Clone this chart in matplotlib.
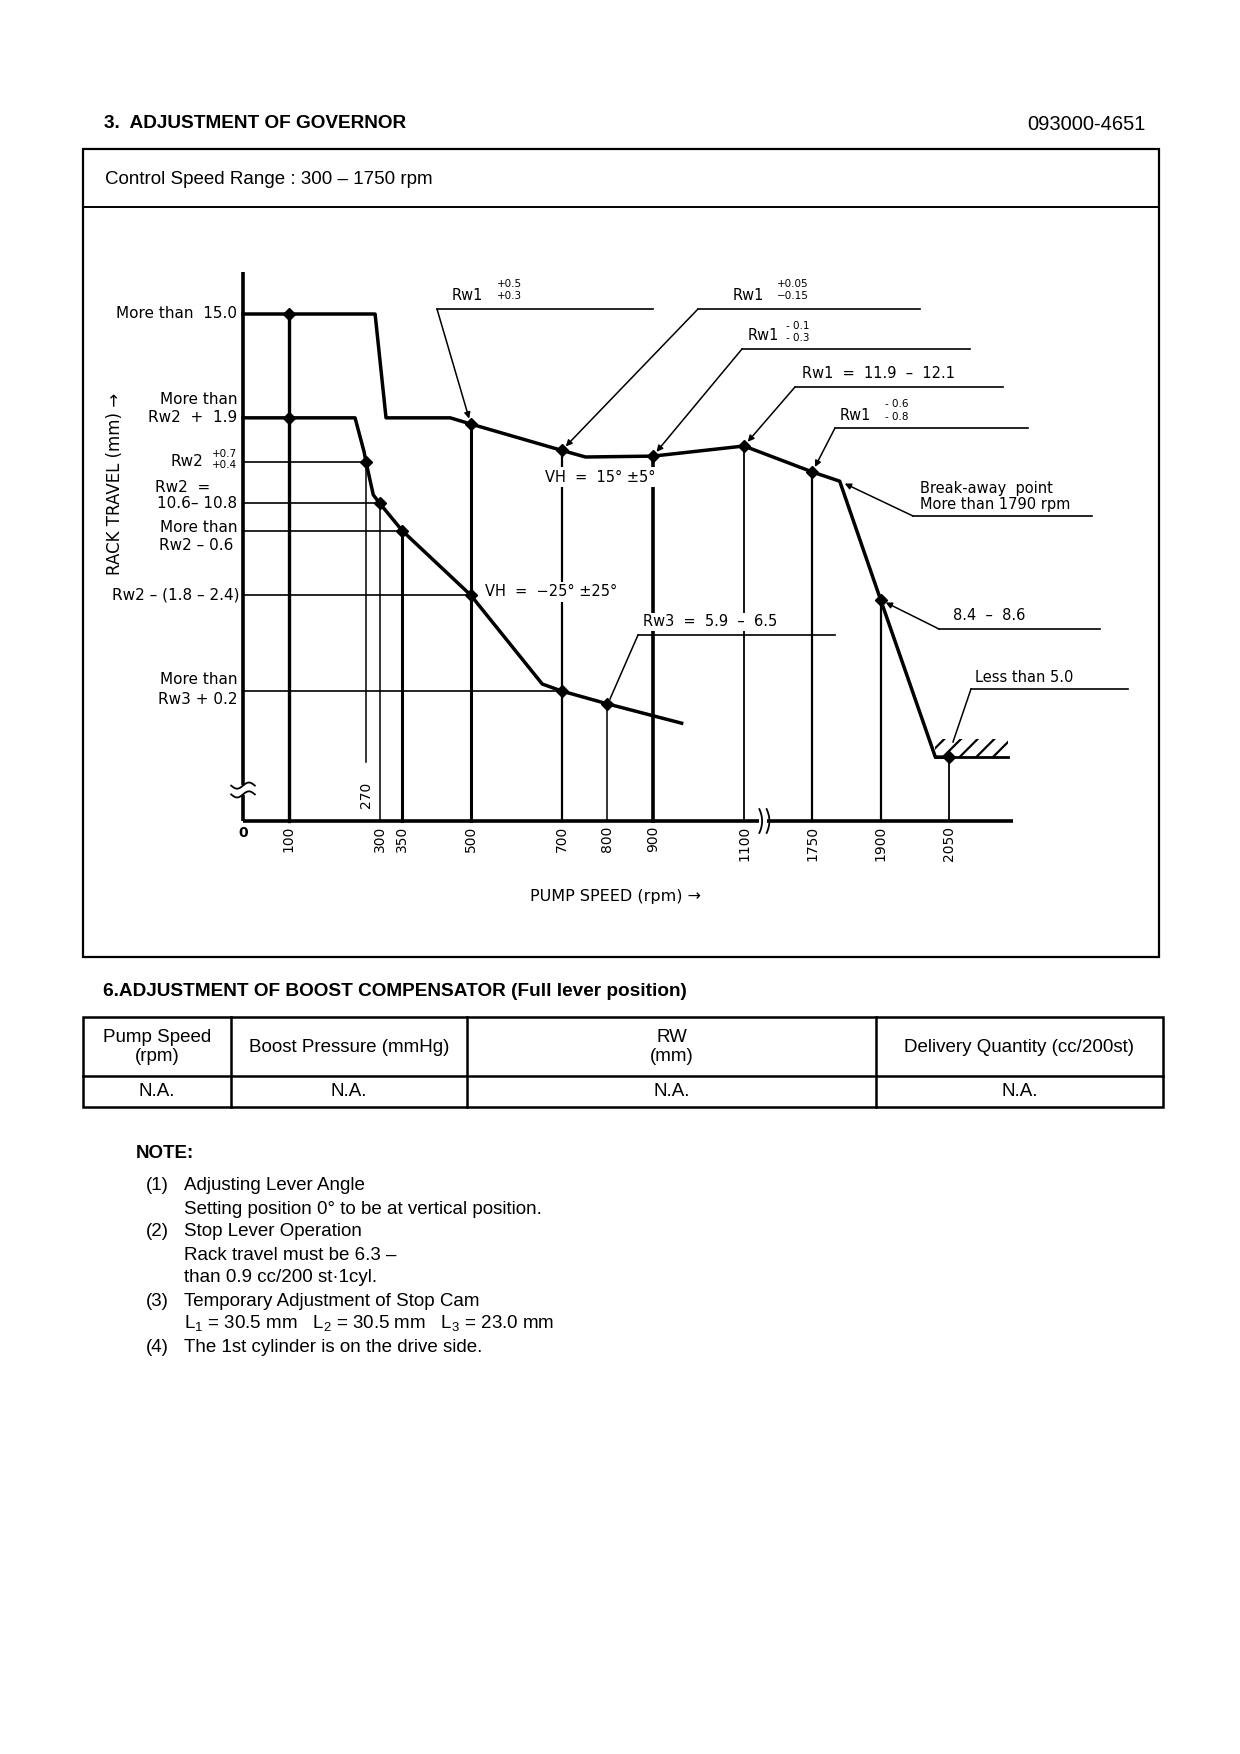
import matplotlib
matplotlib.use('Agg')
import matplotlib.pyplot as plt
from matplotlib.patches import Rectangle
import numpy as np

plt.rcParams['mathtext.fontset'] = 'custom'
plt.rcParams['mathtext.rm'] = 'Liberation Sans'
plt.rcParams['hatch.linewidth'] = 1.6

# ---------------- data (rpm, rack travel mm) ----------------
top_rpm = [0, 100, 290, 314, 455, 500, 700, 752, 900, 1100, 1750, 1810, 1900, 2020, 2050]
top_mm = [15.0, 15.0, 15.0, 12.64, 12.64, 12.5, 11.9, 11.75, 11.77, 12.0, 11.41, 11.2, 8.5, 4.93, 4.93]
low_rpm = [0, 246, 266, 270, 286, 300, 350, 500, 657, 700, 800, 963]
low_mm = [12.64, 12.64, 11.86, 11.64, 10.89, 10.70, 10.07, 8.61, 6.59, 6.43, 6.14, 5.70]
top_pts_rpm = [100, 500, 700, 900, 1100, 1750, 1900, 2050]
top_pts_mm = [15.0, 12.5, 11.9, 11.77, 12.0, 11.41, 8.5, 4.93]
low_pts_rpm = [100, 270, 300, 350, 500, 700, 800]
low_pts_mm = [12.64, 11.64, 10.70, 10.07, 8.61, 6.43, 6.14]
vline_rpm = [100, 270, 300, 350, 500, 700, 800, 900, 1100, 1750, 1900, 2050]
vline_top = [15.0, 11.64, 10.70, 10.07, 12.5, 11.9, 6.14, 11.77, 12.0, 11.41, 8.5, 4.93]
vline_bot = [None, 4.82, None, None, None, None, None, None, None, None, None, None]
vline_lw = [2.4, 1.1, 1.1, 2.2, 2.2, 1.6, 1.1, 2.6, 1.3, 1.6, 1.6, 1.3]
hline_mm = [11.64, 10.70, 10.07, 8.61, 6.43]
hline_end_rpm = [270, 300, 350, 500, 700]
tick_rpm = [100, 300, 350, 500, 700, 800, 900, 1100, 1750, 1900, 2050]
hatch_rpm = [2020, 2180]
Y_AXIS_BASE, Y_AXIS_TOP, X_AXIS_END = 3.477, 15.95, 2190
BREAK_LO, BREAK_HI = 1100, 1750

table_cols = ['Pump Speed\n(rpm)', 'Boost Pressure (mmHg)', 'RW\n(mm)', 'Delivery Quantity (cc/200st)']
table_vals = ['N.A.', 'N.A.', 'N.A.', 'N.A.']

W, H, DPI = 1240, 1754, 100
DOC = 'Liberation Sans'
CH = 'DejaVu Sans'
DFS = 13.5

fig = plt.figure(figsize=(W / DPI, H / DPI), dpi=DPI)
fig.patch.set_facecolor('white')
page = fig.add_axes([0, 0, 1, 1])
page.set_xlim(0, W)
page.set_ylim(H, 0)
page.axis('off')

# ---------------- page frame & texts ----------------
page.text(104, 124, '3.  ADJUSTMENT OF GOVERNOR', family=DOC, weight='bold', fontsize=13.7, va='center')
page.text(1146, 124, '093000-4651', family=DOC, fontsize=14.5, va='center', ha='right')
page.add_patch(Rectangle((83, 149), 1076, 808, fill=False, lw=1.6, ec='k'))
page.plot([83, 1159], [207, 207], color='k', lw=1.4)
page.text(105, 179, 'Control Speed Range : 300 \u2013 1750 rpm', family=DOC, fontsize=DFS, va='center')

page.text(103, 992, '6.ADJUSTMENT OF BOOST COMPENSATOR (Full lever position)', family=DOC,
          weight='bold', fontsize=13.7, va='center')
col_x = [83, 231, 467, 876, 1163]
page.add_patch(Rectangle((83, 1017), 1080, 90, fill=False, lw=1.8, ec='k'))
page.plot([83, 1163], [1076, 1076], color='k', lw=1.8)
for cx in col_x[1:-1]:
    page.plot([cx, cx], [1017, 1107], color='k', lw=1.8)
for i, (c, v) in enumerate(zip(table_cols, table_vals)):
    xc = (col_x[i] + col_x[i + 1]) / 2
    page.text(xc, 1047, c, family=DOC, fontsize=DFS, ha='center', va='center', linespacing=1.12)
    page.text(xc, 1092, v, family=DOC, fontsize=DFS, ha='center', va='center')

page.text(136, 1153, 'NOTE:', family=DOC, weight='bold', fontsize=DFS, va='center')
notes = [('(1)', 'Adjusting Lever Angle'),
         ('', 'Setting position 0\u00b0 to be at vertical position.'),
         ('(2)', 'Stop Lever Operation'),
         ('', 'Rack travel must be 6.3 \u2013'),
         ('', 'than 0.9 cc/200 st\u00b71cyl.'),
         ('(3)', 'Temporary Adjustment of Stop Cam'),
         ('', r'L$_{\mathrm{1}}$ = 30.5 mm   L$_{\mathrm{2}}$ = 30.5 mm   L$_{\mathrm{3}}$ = 23.0 mm'),
         ('(4)', 'The 1st cylinder is on the drive side.')]
for i, (n, t) in enumerate(notes):
    yy = 1186 + i * 23.0
    if n:
        page.text(146, yy, n, family=DOC, fontsize=DFS, va='center')
    page.text(184, yy, t, family=DOC, fontsize=DFS, va='center')

# ---------------- chart axes ----------------
X0PX, XS, Y12PX, YS = 243, 0.4555, 446, 44.0
def px2x(p):
    return (p - X0PX) / XS
def py2y(p):
    return 12 - (p - Y12PX) / YS
def bx(r):
    r = np.asarray(r, dtype=float)
    return np.where(r > BREAK_LO, r - (BREAK_HI - BREAK_LO - 150), r)

AL, AR, AT, AB = 90, 1150, 230, 920
ax = fig.add_axes([AL / W, 1 - AB / H, (AR - AL) / W, (AB - AT) / H])
ax.set_xlim(px2x(AL), px2x(AR))
ax.set_ylim(py2y(AB), py2y(AT))
ax.axis('off')
ax.patch.set_alpha(0)

K = 'black'
# axes lines
ax.plot([0, 0], [Y_AXIS_BASE, Y_AXIS_TOP], color=K, lw=2.6, solid_capstyle='butt', zorder=4)
ax.plot([0, bx(X_AXIS_END)], [Y_AXIS_BASE, Y_AXIS_BASE], color=K, lw=2.6, solid_capstyle='butt', zorder=4)

# vertical drop lines
for r, t, b, lw in zip(vline_rpm, vline_top, vline_bot, vline_lw):
    ax.plot([bx(r), bx(r)], [t, Y_AXIS_BASE if b is None else b], color=K, lw=lw, zorder=2)
# horizontal lines from axis
for m, r in zip(hline_mm, hline_end_rpm):
    ax.plot([0, bx(r)], [m, m], color=K, lw=1.2, zorder=2)

# curves
ax.plot(bx(top_rpm), top_mm, color=K, lw=2.5, zorder=3, solid_joinstyle='round')
ax.plot(bx(low_rpm), low_mm, color=K, lw=2.5, zorder=3, solid_joinstyle='round')
ax.plot(bx(top_pts_rpm), top_pts_mm, 'D', color=K, ms=6, zorder=4)
ax.plot(bx(low_pts_rpm), low_pts_mm, 'D', color=K, ms=6, zorder=4)

# hatch at stop
ax.plot(bx(hatch_rpm), [top_mm[-1], top_mm[-1]], color=K, lw=2.0, zorder=3)
ax.add_patch(Rectangle((bx(hatch_rpm[0]), top_mm[-1]), float(bx(hatch_rpm[1]) - bx(hatch_rpm[0])), 0.40,
                       facecolor='none', edgecolor=K, lw=0, hatch='//', zorder=2))

# axis breaks
yb = py2y(790)
ax.add_patch(Rectangle((-8, yb - 0.11), 16, 0.22, facecolor='white', edgecolor='none', zorder=5))
tt = np.linspace(-1, 1, 30)
for dy in (-0.1, 0.1):
    ax.plot(tt * 26, yb + dy + 0.07 * np.sin(tt * np.pi), color=K, lw=1.3, zorder=6)
xb = px2x(763)
ax.add_patch(Rectangle((xb - 9, Y_AXIS_BASE - 0.12), 18, 0.24, facecolor='white', edgecolor='none', zorder=5))
ss = np.linspace(-1, 1, 30)
for dx in (-8, 8):
    ax.plot(xb + dx + 6 * (1 - ss ** 2), Y_AXIS_BASE + ss * 0.27, color=K, lw=1.3, zorder=6)

# tick labels
ty = py2y(826)
ax.text(0, ty, '0', family=CH, fontsize=10, ha='center', va='top', weight='bold')
for r in tick_rpm:
    ax.text(bx(r), ty, str(r), family=CH, fontsize=10, rotation=90, ha='center', va='top')
ax.text(bx(270), py2y(795), '270', family=CH, fontsize=10, rotation=90, ha='center', va='center')
ax.text(px2x(615), py2y(897), 'PUMP SPEED (rpm) \u2192', family=CH, fontsize=11.5, ha='center', va='center')
ax.text(px2x(115), py2y(484), 'RACK TRAVEL (mm) \u2192', family=CH, fontsize=12, rotation=90,
        ha='center', va='center')

# y labels
XR = px2x(237)
fs = 11
def ylab(txt, mm, x=XR, ha='right', size=fs):
    ax.text(x, mm, txt, family=CH, fontsize=size, ha=ha, va='center')
ylab('More than  15.0', 15.0)
ylab('More than', py2y(400))
ylab('Rw2  +  1.9', 12.64)
ylab('Rw2', 11.64, x=px2x(203))
ylab('+0.7', py2y(454), size=7.5)
ylab('+0.4', py2y(465), size=7.5)
ylab('Rw2  =', py2y(488), x=px2x(155), ha='left')
ylab('10.6\u2013 10.8', 10.70)
ylab('More than', py2y(528))
ylab('Rw2 \u2013 0.6', py2y(545), x=px2x(233))
ylab('Rw2 \u2013 (1.8 \u2013 2.4)', 8.61, x=px2x(239))
ylab('More than', py2y(680))
ylab('Rw3 + 0.2', py2y(699))

# annotations
def label_line(lx0, lx1, ly, target=None, arrow=True):
    ax.plot([lx0, lx1], [ly, ly], color=K, lw=1.2, zorder=3)
    if target is not None:
        if arrow:
            ax.annotate('', xy=target, xytext=(lx0, ly),
                        arrowprops=dict(arrowstyle='-|>', color=K, lw=1.1, mutation_scale=9,
                                        shrinkA=0, shrinkB=4), zorder=3)
        else:
            ax.plot([lx0, target[0]], [ly, target[1]], color=K, lw=1.1, zorder=3)

def rw1(x, y, sup_hi, sup_lo, xs, yhi, ylo):
    ax.text(x, y, 'Rw1', family=CH, fontsize=10.5, va='center', ha='left')
    ax.text(xs, yhi, sup_hi, family=CH, fontsize=7.5, va='center', ha='left')
    ax.text(xs, ylo, sup_lo, family=CH, fontsize=7.5, va='center', ha='left')

AF = 10.5
# Rw1 +0.5 +0.3 -> 500 rpm
label_line(px2x(437), px2x(653), py2y(309), (float(bx(500)), 12.5))
rw1(px2x(452), py2y(295), '+0.5', '+0.3', px2x(497), py2y(284), py2y(296))
# Rw1 +0.05 -0.15 -> 700 rpm
label_line(px2x(698), px2x(920), py2y(309), (float(bx(700)), 11.9))
rw1(px2x(733), py2y(295), '+0.05', '\u22120.15', px2x(777), py2y(284), py2y(296))
# Rw1 -0.1 -0.3 -> 900 rpm
label_line(px2x(742), px2x(970), py2y(349), (float(bx(900)), 11.77))
rw1(px2x(748), py2y(336), '- 0.1', '- 0.3', px2x(786), py2y(326), py2y(338))
# Rw1 = 11.9 - 12.1 -> 1100 rpm
label_line(px2x(795), px2x(1003), py2y(387), (float(bx(1100)), 12.0))
ax.text(px2x(802), py2y(373), 'Rw1  =  11.9  \u2013  12.1', family=CH, fontsize=AF, va='center')
# Rw1 -0.6 -0.8 -> 1750 rpm
label_line(px2x(835), px2x(1028), py2y(428), (float(bx(1750)), 11.41))
rw1(px2x(840), py2y(415), '- 0.6', '- 0.8', px2x(885), py2y(404), py2y(417))
# Break-away point
label_line(px2x(913), px2x(1092), py2y(516), (float(bx(1810)), 11.2))
ax.text(px2x(920), py2y(489), 'Break-away  point', family=CH, fontsize=AF, va='center')
ax.text(px2x(920), py2y(505), 'More than 1790 rpm', family=CH, fontsize=AF, va='center')
# 8.4 - 8.6
label_line(px2x(939), px2x(1100), py2y(629), (float(bx(1900)), 8.5))
ax.text(px2x(953), py2y(616), '8.4  \u2013  8.6', family=CH, fontsize=AF, va='center')
# Less than 5.0
label_line(px2x(971), px2x(1128), py2y(689), (px2x(953), py2y(742)), arrow=False)
ax.text(px2x(975), py2y(678), 'Less than 5.0', family=CH, fontsize=AF, va='center')
# Rw3 = 5.9 - 6.5
label_line(px2x(638), px2x(835), py2y(635), (px2x(610), py2y(699)), arrow=False)
ax.text(px2x(643), py2y(622), 'Rw3  =  5.9  \u2013  6.5', family=CH, fontsize=AF, va='center', zorder=5,
        bbox=dict(facecolor='white', edgecolor='none', pad=1.0))
# VH texts
ax.text(px2x(545), py2y(477), 'VH  =  15\u00b0 \u00b15\u00b0', family=CH, fontsize=10.5, va='center',
        zorder=5, bbox=dict(facecolor='white', edgecolor='none', pad=1.5))
ax.text(px2x(485), py2y(592), 'VH  =  \u221225\u00b0 \u00b125\u00b0', family=CH, fontsize=10.5, va='center',
        zorder=5, bbox=dict(facecolor='white', edgecolor='none', pad=1.5))

fig.savefig('out.png', dpi=DPI, facecolor='white')
